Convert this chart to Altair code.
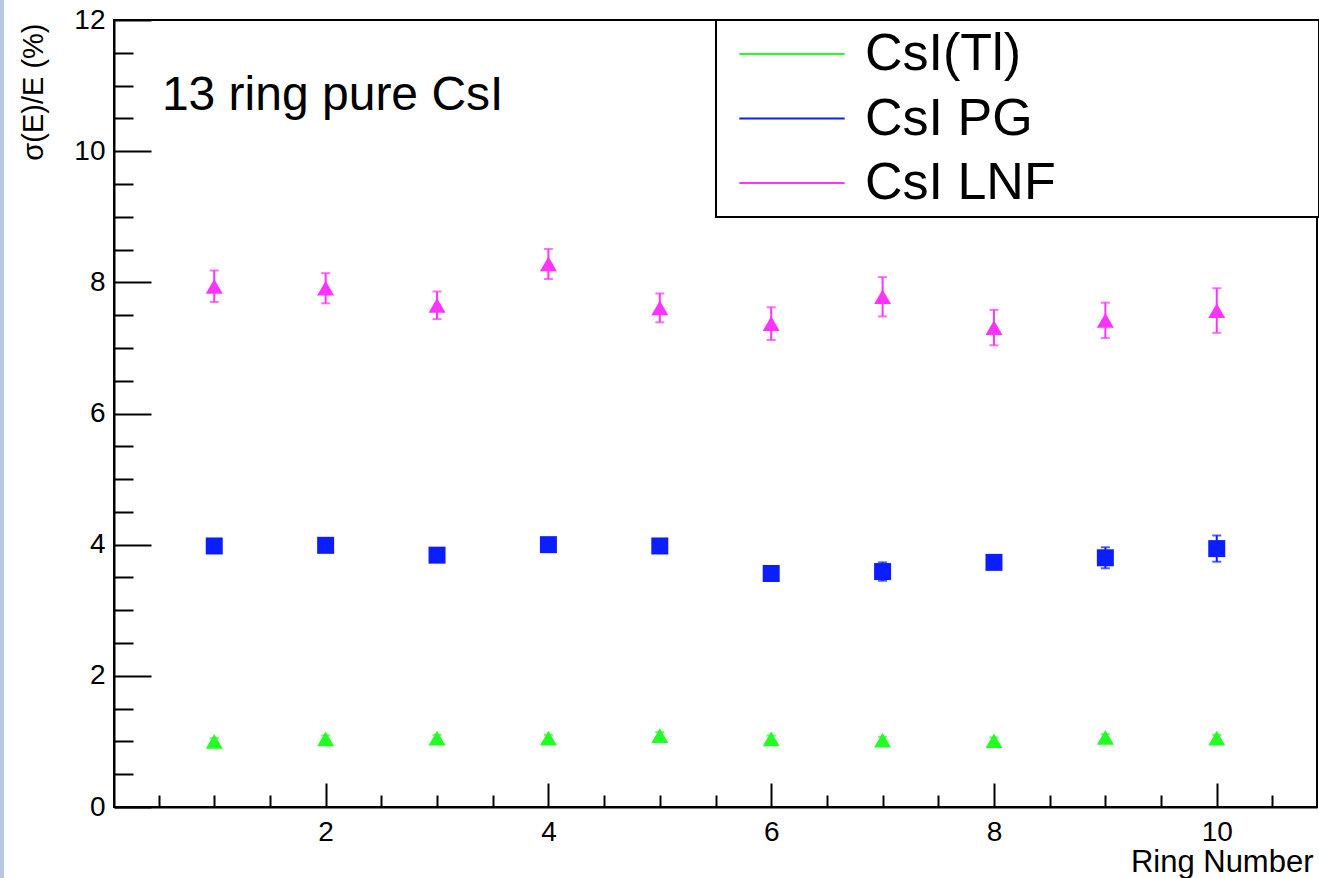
import altair as alt
import pandas as pd

# ---------------- data ----------------
rings = [1, 2, 3, 4, 5, 6, 7, 8, 9, 10]
series_names = ["CsI(Tl)", "CsI PG", "CsI LNF"]
series_colors = ["#22ff22", "#0a1eff", "#ff33ff"]
triangle_series = ["CsI(Tl)", "CsI LNF"]
square_series = ["CsI PG"]

tl_values = [1.00, 1.04, 1.05, 1.05, 1.09, 1.04, 1.02, 1.01, 1.06, 1.05]
tl_errors = [0.05, 0.05, 0.05, 0.05, 0.05, 0.05, 0.05, 0.05, 0.05, 0.05]
pg_values = [3.98, 3.99, 3.84, 4.00, 3.98, 3.56, 3.59, 3.73, 3.80, 3.94]
pg_errors = [0.08, 0.08, 0.08, 0.08, 0.08, 0.08, 0.14, 0.08, 0.16, 0.20]
lnf_values = [7.94, 7.91, 7.65, 8.28, 7.61, 7.37, 7.78, 7.31, 7.42, 7.57]
lnf_errors = [0.24, 0.23, 0.21, 0.23, 0.22, 0.25, 0.30, 0.27, 0.27, 0.34]

x_major_ticks = [2, 4, 6, 8, 10]
x_minor_ticks = [0.5, 1, 1.5, 2.5, 3, 3.5, 4.5, 5, 5.5, 6.5, 7, 7.5, 8.5, 9, 9.5, 10.5]
y_major_ticks = [0, 2, 4, 6, 8, 10, 12]
y_minor_ticks = [0.5, 1, 1.5, 2.5, 3, 3.5, 4.5, 5, 5.5, 6.5, 7, 7.5,
                 8.5, 9, 9.5, 10.5, 11, 11.5]

annotation_text = ["13 ring pure CsI"]
annotation_x = [0.53]
annotation_y = [10.63]

# ---------------- tables ----------------
rows = []
for name, vals, errs in zip(series_names,
                            [tl_values, pg_values, lnf_values],
                            [tl_errors, pg_errors, lnf_errors]):
    for r, v, e in zip(rings, vals, errs):
        rows.append({"ring": r, "series": name, "value": v, "lo": v - e, "hi": v + e})
df = pd.DataFrame(rows)
ann = pd.DataFrame({"x": annotation_x, "y": annotation_y, "t": annotation_text})

W, H = 1203, 787
FONT = "Liberation Sans"

x_scale = alt.Scale(domain=[0.1, 10.9], nice=False, zero=False)
y_scale = alt.Scale(domain=[0, 12], nice=False, zero=False)
color_scale = alt.Scale(domain=series_names, range=series_colors)

# axes: labelled axes (no ticks) + inward tick-only axes
x_label_axis = alt.Axis(
    orient="bottom", values=x_major_ticks, ticks=False, tickSize=0,
    labelPadding=11, labelFontSize=28, labelFont=FONT, labelColor="black",
    labelFlush=False, labelOverlap=False,
    domainColor="black", domainWidth=2, grid=False, format="d",
    title="Ring Number", titleFont=FONT, titleFontSize=31, titleFontWeight="normal",
    titleColor="black", titleAlign="right", titleAnchor="end",
    titleBaseline="alphabetic", titleX=1199, titleY=64,
)
y_label_axis = alt.Axis(
    orient="left", values=y_major_ticks, ticks=False, tickSize=0,
    labelPadding=9, labelFontSize=28, labelFont=FONT, labelColor="black",
    labelFlush=False, labelOverlap=False,
    domainColor="black", domainWidth=2, grid=False, format="d",
    title="σ(E)/E (%)", titleFont=FONT, titleFontSize=29, titleFontWeight="normal",
    titleColor="black", titleAngle=270, titleAlign="right",
    titleBaseline="alphabetic", titleX=-72, titleY=3,
)
x_major_axis = alt.Axis(orient="top", offset=-H, values=x_major_ticks, labels=False,
                        domain=False, ticks=True, tickSize=24, tickWidth=2,
                        tickColor="black", grid=False, title=None)
x_minor_axis = alt.Axis(orient="top", offset=-H, values=x_minor_ticks, labels=False,
                        domain=False, ticks=True, tickSize=12, tickWidth=2,
                        tickColor="black", grid=False, title=None)
y_major_axis = alt.Axis(orient="right", offset=-W, values=y_major_ticks, labels=False,
                        domain=False, ticks=True, tickSize=37, tickWidth=2,
                        tickColor="black", grid=False, title=None)
y_minor_axis = alt.Axis(orient="right", offset=-W, values=y_minor_ticks, labels=False,
                        domain=False, ticks=True, tickSize=19, tickWidth=2,
                        tickColor="black", grid=False, title=None)

base = alt.Chart(df)

legend_box = alt.Chart(pd.DataFrame({"a": [0]})).mark_rect(
    fill="white", stroke="black", strokeWidth=2
).encode(x=alt.value(602), x2=alt.value(W + 2), y=alt.value(0), y2=alt.value(197))

side_strip = alt.Chart(pd.DataFrame({"a": [0]})).mark_rect(
    fill="#b8c7e2", clip=False
).encode(x=alt.value(-114), x2=alt.value(-110), y=alt.value(-20), y2=alt.value(858))

rules = base.mark_rule(strokeWidth=2).encode(
    x=alt.X("ring:Q", scale=x_scale, axis=x_label_axis),
    y=alt.Y("lo:Q", scale=y_scale, axis=y_label_axis),
    y2="hi:Q",
    color=alt.Color("series:N", scale=color_scale, legend=alt.Legend(
        orient="none", legendX=652, legendY=8, title=None,
        symbolType="M-10,0H10", symbolSize=111, symbolStrokeWidth=2,
        labelFont=FONT, labelFontSize=52, labelColor="black", labelLimit=500,
        labelOffset=47, rowPadding=12.5, padding=0,
    )),
)

caps_lo = base.mark_tick(orient="horizontal", size=9, thickness=2).encode(
    x=alt.X("ring:Q", scale=x_scale, axis=x_major_axis),
    y=alt.Y("lo:Q", scale=y_scale, axis=y_major_axis),
    color=alt.Color("series:N", scale=color_scale, legend=None),
)
caps_hi = base.mark_tick(orient="horizontal", size=9, thickness=2).encode(
    x=alt.X("ring:Q", scale=x_scale, axis=x_minor_axis),
    y=alt.Y("hi:Q", scale=y_scale, axis=y_minor_axis),
    color=alt.Color("series:N", scale=color_scale, legend=None),
)
tri_points = base.transform_filter(
    alt.FieldOneOfPredicate(field="series", oneOf=triangle_series)
).mark_point(filled=True, size=289, opacity=1, strokeWidth=0, shape="triangle-up").encode(
    x=alt.X("ring:Q", scale=x_scale, axis=None),
    y=alt.Y("value:Q", scale=y_scale, axis=None),
    color=alt.Color("series:N", scale=color_scale, legend=None),
)
sq_points = base.transform_filter(
    alt.FieldOneOfPredicate(field="series", oneOf=square_series)
).mark_point(filled=True, size=289, opacity=1, strokeWidth=0, shape="square").encode(
    x=alt.X("ring:Q", scale=x_scale, axis=None),
    y=alt.Y("value:Q", scale=y_scale, axis=None),
    color=alt.Color("series:N", scale=color_scale, legend=None),
)
label = alt.Chart(ann).mark_text(
    align="left", baseline="alphabetic", fontSize=48, font=FONT, color="black"
).encode(
    x=alt.X("x:Q", scale=x_scale, axis=None),
    y=alt.Y("y:Q", scale=y_scale, axis=None),
    text="t:N",
)

chart = alt.layer(
    side_strip, legend_box, rules, caps_lo, caps_hi, tri_points, sq_points, label
).resolve_axis(x="independent", y="independent").properties(
    width=W, height=H, autosize="none",
    padding={"left": 114, "top": 20, "right": 2, "bottom": 71},
    background="white",
).configure_view(stroke="black", strokeWidth=2)

chart.save("out.html", embed_options={"renderer": "svg", "actions": False})
